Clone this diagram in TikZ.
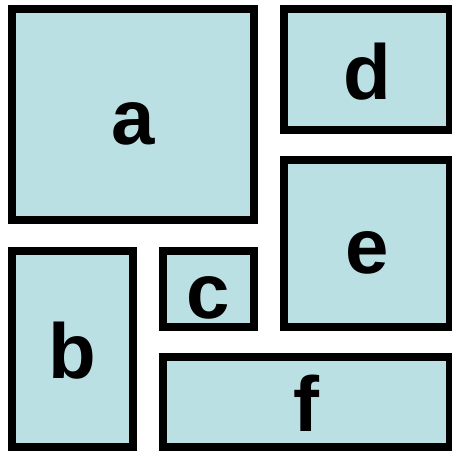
\documentclass[tikz,border=0pt]{standalone}
\usepackage{fontspec}
\setmainfont{Liberation Sans}
\definecolor{boxfill}{RGB}{187,224,227}
\begin{document}
\begin{tikzpicture}[x=1pt,y=-1pt,
  panel/.style={draw=black,line width=8pt,fill=boxfill},
  lbl/.style={anchor=base,inner sep=0pt,font=\fontsize{78}{78}\selectfont\bfseries}]
\useasboundingbox (0,0) rectangle (452,450);
\clip (0,0) rectangle (452,450);
\draw[panel] (12,9) rectangle (254,220);
\draw[panel] (284,9) rectangle (450,130);
\draw[panel] (284,160) rectangle (450,327);
\draw[panel] (12,251) rectangle (133,447);
\draw[panel] (163,251) rectangle (254,327);
\draw[panel] (163,357) rectangle (450,447);
\node[lbl] (a) at (133,144) {a};
\node[lbl] (d) at (367,99) {d};
\node[lbl] (e) at (367,273) {e};
\node[lbl] (b) at (72.5,378.5) {b};
\node[lbl] (c) at (208.5,318.5) {c};
\node[lbl] (f) at (306.5,431.5) {f};
\end{tikzpicture}
\end{document}
